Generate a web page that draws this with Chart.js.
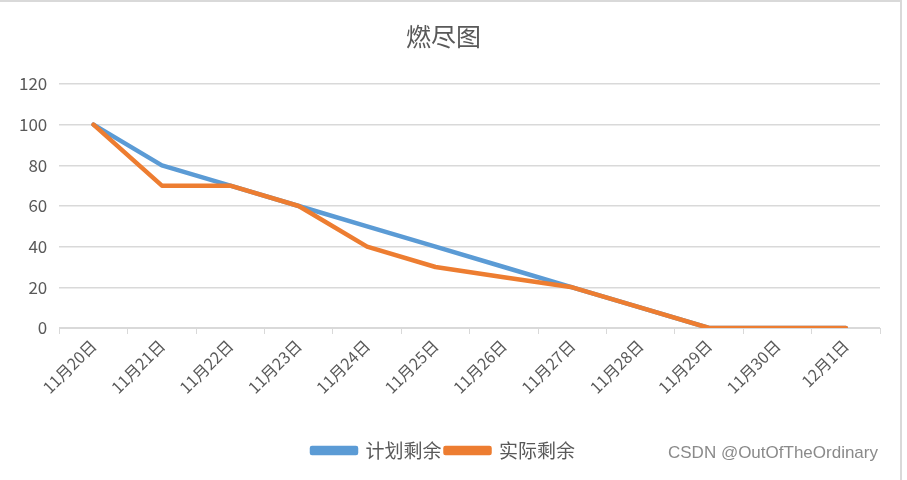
<!DOCTYPE html>
<html>
<head>
<meta charset="utf-8">
<script src="https://cdn.jsdelivr.net/npm/chart.js@4.4.1/dist/chart.umd.min.js"></script>
<style>
html,body{margin:0;padding:0;background:#fff;}
#wrap{position:relative;width:907px;height:480px;}
#frame{position:absolute;left:0;top:0;width:902px;height:480px;border-top:2px solid #d9d9d9;border-right:2px solid #d9d9d9;box-sizing:border-box;pointer-events:none;}
#mark{position:absolute;left:668px;top:443px;font-family:"Liberation Sans",Arial,sans-serif;font-size:17px;color:#8a8a8a;white-space:nowrap;}
</style>
</head>
<body>
<div id="wrap">
<canvas id="c" width="907" height="480"></canvas>
<div id="frame"></div>
<div id="mark">CSDN @OutOfTheOrdinary</div>
</div>
<script>
const categories = ["11月20日","11月21日","11月22日","11月23日","11月24日","11月25日","11月26日","11月27日","11月28日","11月29日","11月30日","12月1日"];
const plannedRemaining = [100, 80, 70, 60, 50, 40, 30, 20, 10, 0, 0, 0];
const actualRemaining = [100, 70, 70, 60, 40, 30, 25, 20, 10, 0, 0, 0];
const yTicks = [0, 20, 40, 60, 80, 100, 120];

const txt = "#595959";
const font = '"Noto Sans CJK SC", "Liberation Sans", sans-serif';

new Chart(document.getElementById('c'), {
  type: 'line',
  data: {
    labels: categories,
    datasets: [
      {label: '计划剩余', data: plannedRemaining, borderColor: '#5B9BD5', backgroundColor: '#5B9BD5', order: 2},
      {label: '实际剩余', data: actualRemaining, borderColor: '#ED7D31', backgroundColor: '#ED7D31', order: 1}
    ]
  },
  options: {
    responsive: false,
    animation: false,
    layout: {padding: {left: 7, right: 27, top: 6, bottom: 10}},
    elements: {
      line: {borderWidth: 4.5, tension: 0, borderCapStyle: 'round', borderJoinStyle: 'round'},
      point: {radius: 0}
    },
    plugins: {
      title: {display: true, text: '燃尽图', color: txt, font: {family: font, size: 25, weight: 'normal'}, padding: {top: 15, bottom: 33}},
      legend: {
        position: 'bottom',
        labels: {
          color: txt, font: {family: font, size: 19}, boxWidth: 44, boxHeight: 5, padding: 4,
          sort: (a, b) => a.datasetIndex - b.datasetIndex
        }
      },
      tooltip: {enabled: false}
    },
    scales: {
      x: {
        offset: true,
        afterFit: (s) => { s.height = 109; },
        grid: {offset: true, drawOnChartArea: false, color: '#d9d9d9', tickLength: 6, tickColor: '#d9d9d9'},
        border: {color: '#d9d9d9', width: 1},
        ticks: {color: txt, font: {family: font, size: 16}, maxRotation: 45, minRotation: 45, padding: 2}
      },
      y: {
        min: 0, max: 120,
        afterBuildTicks: (s) => { s.ticks = yTicks.map(v => ({value: v})); },
        grid: {color: '#d9d9d9', lineWidth: 1.5, drawTicks: false},
        border: {display: false},
        ticks: {color: txt, font: {family: font, size: 17}, padding: 12}
      }
    }
  }
});
</script>
</body>
</html>
